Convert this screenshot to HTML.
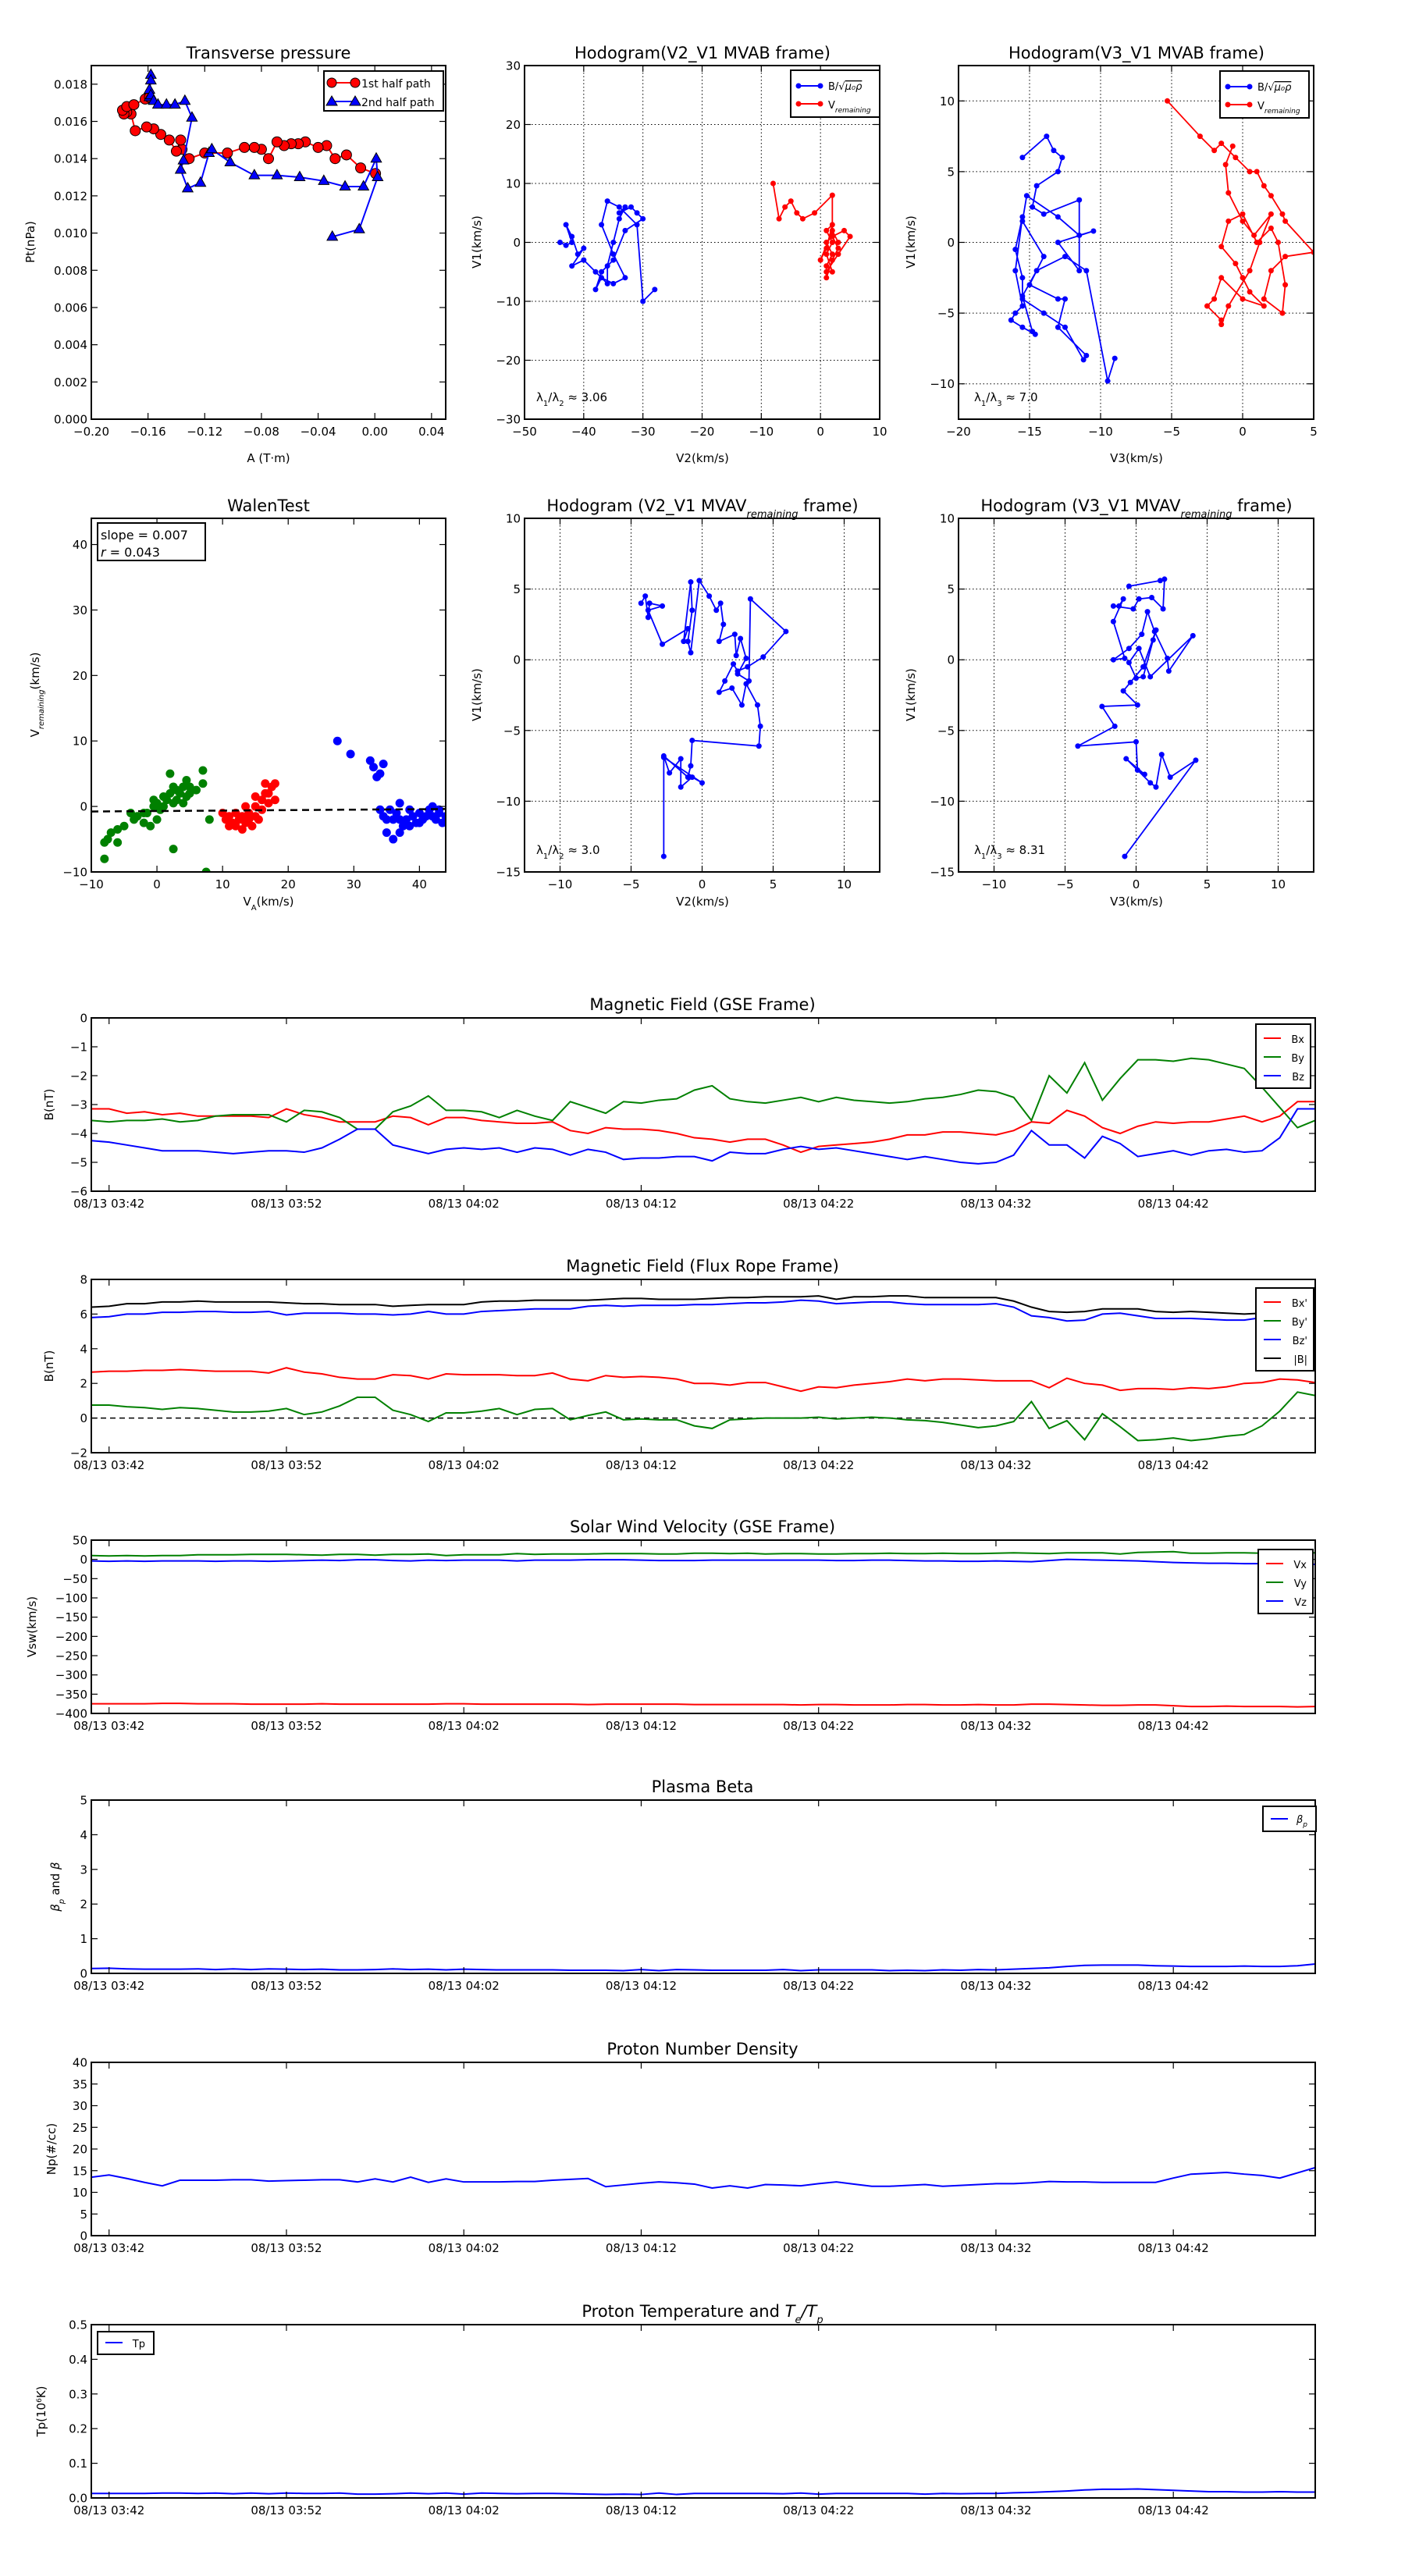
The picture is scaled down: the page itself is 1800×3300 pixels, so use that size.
<!DOCTYPE html>
<html><head><meta charset="utf-8">
<style>
html,body{margin:0;padding:0;background:#fff;}
svg{display:block;font-family:"DejaVu Sans","Liberation Sans",sans-serif;}
</style></head>
<body>
<svg id="fig" width="1800" height="3300" viewBox="0 0 1800 3300" xmlns="http://www.w3.org/2000/svg"><rect width="1800" height="3300" fill="#fff"/></svg>
<script>
// ---------- Transverse pressure data ----------
const ptRedA=[0.0005,-0.010,-0.020,-0.028,-0.034,-0.040,-0.049,-0.054,-0.059,-0.064,-0.069,-0.075,-0.080,-0.085,-0.092,-0.104,-0.120,-0.131,-0.136,-0.137,-0.140,-0.145,-0.151,-0.156,-0.161,-0.169,-0.172,-0.175,-0.177,-0.178,-0.175,-0.170,-0.162,-0.159];
const ptRedP=[0.0132,0.0135,0.0142,0.0140,0.0147,0.0146,0.0149,0.0148,0.0148,0.0147,0.0149,0.0140,0.0145,0.0146,0.0146,0.0143,0.0143,0.0140,0.0145,0.0150,0.0144,0.0150,0.0153,0.0156,0.0157,0.0155,0.0164,0.0165,0.0164,0.0166,0.0168,0.0169,0.0172,0.0173];
const ptBlueA=[-0.159,-0.158,-0.158,-0.159,-0.158,-0.156,-0.153,-0.147,-0.141,-0.134,-0.129,-0.135,-0.137,-0.132,-0.123,-0.117,-0.115,-0.102,-0.085,-0.069,-0.053,-0.036,-0.021,-0.008,0.001,0.002,-0.011,-0.030];
const ptBlueP=[0.0173,0.0185,0.0182,0.0177,0.0174,0.0171,0.0169,0.0169,0.0169,0.0171,0.0162,0.0139,0.0134,0.0124,0.0127,0.0143,0.0145,0.0138,0.0131,0.0131,0.0130,0.0128,0.0125,0.0125,0.0140,0.0130,0.0102,0.0098];
// ---------- Hodogram V2_V1 MVAB ----------
const h1BlueX=[-44,-43,-42,-43,-42,-41,-40,-42,-40,-38,-36,-36,-35,-34,-33,-34,-32,-31,-30,-33,-35,-37,-38,-37,-35,-33,-35,-37,-36,-34,-31,-30,-28];
const h1BlueY=[0,-0.5,0,3,1,-2,-1,-4,-3,-5,-7,-4,0,4,6,5,6,5,4,2,-3,-5,-8,-6,-7,-6,-2,3,7,6,3,-10,-8];
const h1RedX=[-8,-7,-6,-5,-4,-3,-1,2,2,1,2,1,1,2,3,2,4,5,3,1,2,1,2,1,2,1,0,2,3];
const h1RedY=[10,4,6,7,5,4,5,8,1,0,-2,-4,-6,-3,-1,1,2,1,-2,-5,-5,-2,0,2,3,-1,-3,2,0];
// ---------- Hodogram V3_V1 MVAB ----------
const h2BlueX=[-15.5,-13.8,-13.3,-12.7,-13,-14.5,-14.8,-14,-11.5,-11.5,-13,-10.5,-11.5,-13,-15.2,-15.5,-14,-15,-13,-12.5,-13,-11,-11.2,-12.5,-14,-15.5,-15.5,-16,-15.5,-16,-15.5,-16,-16.3,-15.5,-14.6,-14.8,-15.5,-14.5,-12.5,-11,-9.5,-9];
const h2BlueY=[6,7.5,6.5,6,5,4,2.5,2,3,-2,0,0.8,0.5,1.8,3.3,1.5,-1,-3,-4,-4,-6,-8,-8.3,-6,-5,-4,-2.5,-0.5,1.8,-2,-4.5,-5,-5.5,-6,-6.5,-6.3,-3.8,-2,-1,-2,-9.8,-8.2];
const h2RedX=[-5.3,-3,-2,-1.5,-0.5,0.5,1,1.5,2,2.8,3,5,3,2,1.5,2.8,3,2.5,2,1,0,-1,-1.5,-0.5,0,0.5,1.5,0,-1.5,-2,-2.5,-1.5,-1.5,-1,0.5,1.2,2,0.8,0,-1,-1.2,-0.7];
const h2RedY=[10,7.5,6.5,7,6,5,5,4,3.3,2,1.5,-0.7,-1,-2,-4,-5,-3,0,1,0,2,1.5,-0.3,-1.5,-2.5,-3.5,-4.5,-4,-2.5,-4,-4.5,-5.5,-5.8,-4.5,-2,0,2,0.5,1.5,3.5,5.5,6.8];
// ---------- Hodogram V2_V1 MVAV ----------
const h3X=[-4.3,-4,-3.8,-3.7,-2.8,-3.8,-2.8,-1,-1.3,-0.8,-0.7,-1,-0.8,-0.2,0.5,1,1.3,1.5,1.2,2.3,2.4,2.7,3.1,2.5,3.3,3.4,5.9,4.3,3.2,2.5,2.2,1.6,1.2,2.1,2.8,3.1,3.9,4.1,4,-0.7,-0.8,-1,-2.7,-2.3,-1.5,-1.5,-0.7,0,-2.7,-2.7];
const h3Y=[4,4.5,3,4,3.8,3.5,1.1,2.2,1.3,5.5,3.5,1.3,0.5,5.6,4.5,3.5,4,2.5,1.3,1.8,0.3,1.5,0.1,-1,-1.5,4.3,2,0.2,-0.5,-0.8,-0.3,-1.5,-2.3,-2,-3.2,-1.7,-3.2,-4.7,-6.1,-5.7,-7.5,-8.3,-6.8,-8,-7,-9,-8.3,-8.7,-6.9,-13.9];
// ---------- Hodogram V3_V1 MVAV ----------
const h4X=[-0.5,1.7,2,1.9,1.1,0.2,-0.2,-1.6,-1.2,-0.9,-1.6,-0.8,-1.6,-0.5,0.4,0.8,1.3,2.2,2.3,4,1,0.2,-0.5,0,0.5,1.2,1.4,0.5,-0.4,-0.9,0.1,-2.4,-1.5,-4.1,0,0.1,0.6,-0.7,1,1.4,1.8,2.4,4.2,-0.8];
const h4Y=[5.2,5.6,5.7,3.6,4.4,4.3,3.6,3.8,3.8,4.3,2.7,0.1,0,0.8,1.8,3.4,2,0.1,-0.8,1.7,-1.2,0.8,-0.2,-1.3,-1.2,1.4,2.1,-0.5,-1.6,-2.2,-3.2,-3.3,-4.7,-6.1,-5.8,-7.8,-8.1,-7,-8.7,-9,-6.7,-8.3,-7.1,-13.9];
// ---------- Walen test ----------
const walGreenX=[-8,-8,-7.5,-7,-6,-6,-5,-4,-3.5,-3,-2,-2,-1.5,-1,-0.5,-0.5,0,0,0.5,1,1,1.5,2,2,2.5,2.5,3,3,3.5,4,4,4.5,4.5,5,5,6,7,7,8,2.5,7.5];
const walGreenY=[-5.5,-8,-5,-4,-3.5,-5.5,-3,-1,-2,-1.5,-2.5,-1,-1,-3,0,1,-2,0.5,-0.5,1.5,0,1,2,5,3,0.5,2.5,1,2,3,0.5,1.5,4,3,2,2.5,5.5,3.5,-2,-6.5,-10];
const walRedX=[10,10.5,11,11,11.5,12,12,12.5,13,13,13.5,14,14,14.5,15,15,15.5,16,16,16.5,16.5,17,17,17.5,18,18,15,13.5];
const walRedY=[-1,-2,-3,-1.5,-2.5,-1,-3,-2,-3.5,-1.5,-2.5,-2,-1,-3,-1.5,0,-2,1,-0.5,2,3.5,2,0.5,3,1,3.5,1.5,0];
const walBlueX=[27.5,29.5,32.5,33,34,34.5,33.5,34,34.5,35,35,36,36.5,37,37.5,38,38.5,39,39.5,40,40.5,41,41.5,42,42.5,43,43.5,44,36,37,38.5,40,42,43,37,35.5];
const walBlueY=[10,8,7,6,5,6.5,4.5,-0.5,-1.5,-2,-4,-2,-1,-2,-3,-2,-0.5,-1.5,-2.5,-1,-2,-1.5,-0.5,-1.5,-2,-1,-2.5,-1.5,-5,-4,-3,-2.5,0,-0.5,0.5,-0.5];
const walFit=[0.007,-0.7];
// ---------- Time series (1 sample / min from 03:41) ----------
const timeTickMin=[1,11,21,31,41,51,61];
const timeTickLbl=['08/13 03:42','08/13 03:52','08/13 04:02','08/13 04:12','08/13 04:22','08/13 04:32','08/13 04:42'];
const gseBx=[-3.15,-3.15,-3.3,-3.25,-3.35,-3.3,-3.4,-3.4,-3.4,-3.4,-3.45,-3.15,-3.35,-3.45,-3.6,-3.6,-3.6,-3.4,-3.45,-3.7,-3.45,-3.45,-3.55,-3.6,-3.65,-3.65,-3.6,-3.9,-4.0,-3.8,-3.85,-3.85,-3.9,-4.0,-4.15,-4.2,-4.3,-4.2,-4.2,-4.4,-4.65,-4.45,-4.4,-4.35,-4.3,-4.2,-4.05,-4.05,-3.95,-3.95,-4.0,-4.05,-3.9,-3.6,-3.65,-3.2,-3.4,-3.8,-4.0,-3.75,-3.6,-3.65,-3.6,-3.6,-3.5,-3.4,-3.6,-3.4,-2.9,-2.9];
const gseBy=[-3.55,-3.6,-3.55,-3.55,-3.5,-3.6,-3.55,-3.4,-3.35,-3.35,-3.35,-3.6,-3.2,-3.25,-3.45,-3.85,-3.85,-3.25,-3.05,-2.7,-3.2,-3.2,-3.25,-3.45,-3.2,-3.4,-3.55,-2.9,-3.1,-3.3,-2.9,-2.95,-2.85,-2.8,-2.5,-2.35,-2.8,-2.9,-2.95,-2.85,-2.75,-2.9,-2.75,-2.85,-2.9,-2.95,-2.9,-2.8,-2.75,-2.65,-2.5,-2.55,-2.75,-3.55,-2.0,-2.6,-1.55,-2.85,-2.1,-1.45,-1.45,-1.5,-1.4,-1.45,-1.6,-1.75,-2.4,-3.1,-3.8,-3.55];
const gseBz=[-4.25,-4.3,-4.4,-4.5,-4.6,-4.6,-4.6,-4.65,-4.7,-4.65,-4.6,-4.6,-4.65,-4.5,-4.2,-3.85,-3.85,-4.4,-4.55,-4.7,-4.55,-4.5,-4.55,-4.5,-4.65,-4.5,-4.55,-4.75,-4.55,-4.65,-4.9,-4.85,-4.85,-4.8,-4.8,-4.95,-4.65,-4.7,-4.7,-4.55,-4.45,-4.55,-4.5,-4.6,-4.7,-4.8,-4.9,-4.8,-4.9,-5.0,-5.05,-5.0,-4.75,-3.9,-4.4,-4.4,-4.85,-4.1,-4.35,-4.8,-4.7,-4.6,-4.75,-4.6,-4.55,-4.65,-4.6,-4.15,-3.15,-3.15];
const frBx=[2.65,2.7,2.7,2.75,2.75,2.8,2.75,2.7,2.7,2.7,2.6,2.9,2.65,2.55,2.35,2.25,2.25,2.5,2.45,2.25,2.55,2.5,2.5,2.5,2.45,2.45,2.6,2.25,2.15,2.45,2.35,2.4,2.35,2.25,2.0,2.0,1.9,2.05,2.05,1.8,1.55,1.8,1.75,1.9,2.0,2.1,2.25,2.15,2.25,2.25,2.2,2.15,2.15,2.15,1.75,2.3,2.0,1.9,1.6,1.7,1.7,1.65,1.75,1.7,1.8,2.0,2.05,2.25,2.2,2.05];
const frBy=[0.75,0.75,0.65,0.6,0.5,0.6,0.55,0.45,0.35,0.35,0.4,0.55,0.2,0.35,0.7,1.2,1.2,0.45,0.2,-0.2,0.3,0.3,0.4,0.55,0.2,0.5,0.55,-0.1,0.15,0.35,-0.1,-0.05,-0.1,-0.1,-0.45,-0.6,-0.1,-0.05,0.0,0.0,0.0,0.05,-0.05,0.0,0.05,0.0,-0.1,-0.15,-0.25,-0.4,-0.55,-0.45,-0.2,0.95,-0.6,-0.15,-1.25,0.25,-0.5,-1.3,-1.25,-1.15,-1.3,-1.2,-1.05,-0.95,-0.45,0.4,1.5,1.3];
const frBz=[5.8,5.85,6.0,6.0,6.1,6.1,6.15,6.15,6.1,6.1,6.15,5.95,6.05,6.05,6.05,6.0,6.0,5.95,6.0,6.15,6.0,6.0,6.15,6.2,6.25,6.3,6.3,6.3,6.45,6.5,6.45,6.5,6.5,6.5,6.55,6.55,6.6,6.65,6.65,6.7,6.8,6.75,6.6,6.65,6.7,6.7,6.6,6.55,6.55,6.55,6.55,6.6,6.4,5.9,5.8,5.6,5.65,6.0,6.05,5.9,5.75,5.75,5.75,5.7,5.65,5.65,5.8,5.9,5.4,5.0];
const frBt=[6.4,6.45,6.6,6.6,6.7,6.7,6.75,6.7,6.7,6.7,6.7,6.65,6.6,6.6,6.55,6.55,6.55,6.45,6.5,6.55,6.55,6.55,6.7,6.75,6.75,6.8,6.8,6.8,6.8,6.85,6.9,6.9,6.85,6.85,6.85,6.9,6.95,6.95,7.0,7.0,7.0,7.05,6.85,7.0,7.0,7.05,7.05,6.95,6.95,6.95,6.95,6.95,6.75,6.4,6.15,6.1,6.15,6.3,6.3,6.3,6.15,6.1,6.15,6.1,6.05,6.0,6.05,6.35,6.0,5.5];
const vswVx=[-375,-375,-375,-375,-374,-374,-375,-375,-375,-376,-376,-376,-376,-375,-376,-376,-376,-376,-376,-376,-375,-375,-376,-376,-376,-376,-376,-376,-377,-376,-376,-376,-376,-376,-377,-377,-377,-377,-377,-377,-378,-377,-377,-378,-378,-378,-377,-377,-378,-378,-377,-378,-378,-376,-376,-377,-378,-379,-379,-378,-378,-380,-382,-382,-381,-382,-382,-382,-383,-382];
const vswVy=[10,9,10,9,10,10,12,12,12,13,13,13,12,11,13,13,11,13,13,14,10,12,12,12,15,13,14,14,14,15,15,15,14,14,16,16,15,16,14,15,15,14,14,15,15,16,15,15,16,15,15,16,17,16,15,17,17,17,14,18,19,20,16,16,17,17,16,14,16,17];
const vswVz=[-4,-5,-4,-5,-4,-4,-4,-5,-4,-4,-5,-4,-3,-2,-3,-1,-1,-3,-4,-2,-3,-2,-2,-2,-4,-2,-2,-2,-1,-1,-1,-2,-3,-3,-3,-2,-2,-2,-2,-2,-2,-2,-3,-3,-2,-2,-3,-4,-4,-5,-5,-4,-5,-6,-3,0,-1,-2,-3,-4,-6,-8,-9,-10,-10,-11,-11,-11,-10,-13];
const betaP=[0.14,0.15,0.13,0.12,0.12,0.12,0.13,0.11,0.13,0.11,0.13,0.12,0.11,0.12,0.10,0.10,0.11,0.13,0.11,0.12,0.10,0.12,0.11,0.10,0.10,0.10,0.10,0.09,0.09,0.09,0.08,0.11,0.08,0.11,0.10,0.09,0.09,0.09,0.09,0.11,0.08,0.10,0.10,0.10,0.10,0.08,0.09,0.08,0.10,0.09,0.11,0.10,0.12,0.14,0.16,0.20,0.23,0.24,0.24,0.24,0.22,0.21,0.20,0.20,0.20,0.21,0.20,0.20,0.22,0.27];
const densNp=[13.5,14,13.2,12.3,11.5,12.8,12.8,12.8,12.9,12.9,12.6,12.7,12.8,12.9,12.9,12.4,13.1,12.4,13.5,12.3,13.1,12.4,12.4,12.4,12.5,12.5,12.8,13,13.2,11.3,11.7,12.1,12.4,12.2,11.9,11,11.5,11,11.8,11.7,11.5,12,12.4,11.9,11.4,11.4,11.6,11.8,11.4,11.6,11.8,12,12,12.2,12.5,12.4,12.4,12.3,12.3,12.3,12.3,13.3,14.2,14.4,14.6,14.2,13.9,13.3,14.5,15.7];
const tempTp=[0.013,0.013,0.013,0.013,0.014,0.014,0.013,0.014,0.012,0.014,0.012,0.014,0.013,0.013,0.014,0.011,0.011,0.012,0.014,0.012,0.014,0.011,0.014,0.013,0.012,0.013,0.013,0.012,0.011,0.010,0.011,0.010,0.014,0.010,0.013,0.013,0.013,0.013,0.013,0.012,0.014,0.011,0.013,0.013,0.013,0.013,0.013,0.011,0.013,0.012,0.013,0.013,0.015,0.016,0.018,0.020,0.023,0.025,0.025,0.026,0.024,0.022,0.020,0.018,0.018,0.017,0.017,0.018,0.017,0.017];

const NS='http://www.w3.org/2000/svg';
const svg=document.getElementById('fig');
let clipId=0;
function mk(tag,parent){const e=document.createElementNS(NS,tag);(parent||svg).appendChild(e);return e;}
function fmt(v,d){const s=Math.abs(v).toFixed(d);return (v<0?'\u2212':'')+s;}
function txt(parent,x,y,s,size,anchor){const t=mk('text',parent);t.setAttribute('x',x);t.setAttribute('y',y);t.setAttribute('font-size',size);t.setAttribute('text-anchor',anchor||'middle');t.textContent=s;return t;}

function makeAxes(name,x0,y0,w,h,xr,yr,xt,xlbl,yt,ylbl,grid){
  const g=mk('g');
  
  
  const sx=v=>x0+(v-xr[0])/(xr[1]-xr[0])*w;
  const sy=v=>y0+h-(v-yr[0])/(yr[1]-yr[0])*h;
  const cid='c'+(clipId++);
  const cp=mk('clipPath',g);cp.setAttribute('id',cid);
  const cr=mk('rect',cp);cr.setAttribute('x',x0);cr.setAttribute('y',y0);cr.setAttribute('width',w);cr.setAttribute('height',h);
  if(grid){
    xt.forEach(v=>{const l=mk('line',g);l.setAttribute('x1',sx(v));l.setAttribute('x2',sx(v));l.setAttribute('y1',y0);l.setAttribute('y2',y0+h);l.setAttribute('stroke','#000');l.setAttribute('stroke-dasharray','1.5,3');l.setAttribute('stroke-width','1');
      
      });
    yt.forEach(v=>{const l=mk('line',g);l.setAttribute('y1',sy(v));l.setAttribute('y2',sy(v));l.setAttribute('x1',x0);l.setAttribute('x2',x0+w);l.setAttribute('stroke','#000');l.setAttribute('stroke-dasharray','1.5,3');l.setAttribute('stroke-width','1');
      
      });
  }
  const dg=mk('g',g);dg.setAttribute('clip-path','url(#'+cid+')');
  
  
  const fg=mk('g',g);
  xt.forEach((v,i)=>{const X=sx(v);
    [[y0+h,y0+h-8],[y0,y0+8]].forEach(p=>{const l=mk('line',fg);l.setAttribute('x1',X);l.setAttribute('x2',X);l.setAttribute('y1',p[0]);l.setAttribute('y2',p[1]);l.setAttribute('stroke','#000');l.setAttribute('stroke-width','1.2');});
    const t=txt(fg,X,y0+h+21,xlbl[i],15);
    
    });
  yt.forEach((v,i)=>{const Y=sy(v);
    [[x0,x0+8],[x0+w,x0+w-8]].forEach(p=>{const l=mk('line',fg);l.setAttribute('y1',Y);l.setAttribute('y2',Y);l.setAttribute('x1',p[0]);l.setAttribute('x2',p[1]);l.setAttribute('stroke','#000');l.setAttribute('stroke-width','1.2');});
    const t=txt(fg,x0-5,Y+5.5,ylbl[i],15,'end');
    
    });
  const fr=mk('rect',fg);fr.setAttribute('x',x0);fr.setAttribute('y',y0);fr.setAttribute('width',w);fr.setAttribute('height',h);fr.setAttribute('fill','none');fr.setAttribute('stroke','#000');fr.setAttribute('stroke-width','2');
  
  
  return {g,dg,fg,sx,sy,x0,y0,w,h};
}
function line(ax,xs,ys,color,name,width,dash){
  const p=mk('polyline',ax.dg);
  p.setAttribute('points',ys.map((v,i)=>ax.sx(xs?xs[i]:i)+','+ax.sy(v)).join(' '));
  p.setAttribute('fill','none');p.setAttribute('stroke',color);p.setAttribute('stroke-width',width||2);
  if(dash)p.setAttribute('stroke-dasharray',dash);
  
  
  return p;
}
function dots(ax,xs,ys,color,name,r,stroke){
  xs.forEach((x,i)=>{const c=mk('circle',ax.dg);c.setAttribute('cx',ax.sx(x));c.setAttribute('cy',ax.sy(ys[i]));c.setAttribute('r',r);c.setAttribute('fill',color);
    if(stroke){c.setAttribute('stroke','#000');c.setAttribute('stroke-width','1');}
    
    });
}
function tris(ax,xs,ys,color,name,s){
  xs.forEach((x,i)=>{const X=ax.sx(x),Y=ax.sy(ys[i]);const p=mk('polygon',ax.dg);
    p.setAttribute('points',X+','+(Y-s)+' '+(X-s*0.9)+','+(Y+s*0.6)+' '+(X+s*0.9)+','+(Y+s*0.6));p.setAttribute('fill',color);p.setAttribute('stroke','#000');p.setAttribute('stroke-width','1');
    
    });
}
function title(x,y,s,name){const t=txt(svg,x,y,s,21);
  
  return t;}
function ylab(x,y,s,name,size){const t=txt(svg,0,0,s,size||15);t.setAttribute('transform','translate('+x+','+y+') rotate(-90)');
  
  return t;}
function xlab(x,y,s,name){const t=txt(svg,x,y,s,15);
  
  return t;}
function sub(t,s,italic,size){const sp=mk('tspan',t);sp.setAttribute('baseline-shift','sub');sp.setAttribute('font-size',size||10);if(italic)sp.setAttribute('font-style','italic');sp.textContent=s;return sp;}
function plain(t,s){const sp=mk('tspan',t);sp.textContent=s;return sp;}
function legendBox(x,y,w,h,name){const r=mk('rect');r.setAttribute('x',x);r.setAttribute('y',y);r.setAttribute('width',w);r.setAttribute('height',h);r.setAttribute('fill','#fff');r.setAttribute('stroke','#000');r.setAttribute('stroke-width','2');
  
  }
function legLine(x,y,len,color,name){const l=mk('line');l.setAttribute('x1',x);l.setAttribute('x2',x+len);l.setAttribute('y1',y);l.setAttribute('y2',y);l.setAttribute('stroke',color);l.setAttribute('stroke-width','2');
  
  }

// ===== Row 1 =====
const R1=[84,453], R2=[664,453];
const C=[[117,454],[672,455],[1228,455]];
// Transverse pressure
const ptYt=[0,0.002,0.004,0.006,0.008,0.010,0.012,0.014,0.016,0.018];
const ptXt=[-0.20,-0.16,-0.12,-0.08,-0.04,0.00,0.04];
const axPt=makeAxes('transverse-pressure-chart',C[0][0],R1[0],C[0][1],R1[1],[-0.2,0.05],[0,0.019],ptXt,ptXt.map(v=>fmt(v,2)),ptYt,ptYt.map(v=>v.toFixed(3)),false);
line(axPt,ptRedA,ptRedP,'#ff0000','first-half-path-line',2);
dots(axPt,ptRedA,ptRedP,'#ff0000','first-half-point',6.5,true);
line(axPt,ptBlueA,ptBlueP,'#0000ff','second-half-path-line',2);
tris(axPt,ptBlueA,ptBlueP,'#0000ff','second-half-point',7.5);
title(344,75,'Transverse pressure','transverse-pressure-title');
ylab(44,310,'Pt(nPa)','pt-y-axis-title');
xlab(344,592,'A (T·m)','a-x-axis-title');
legendBox(415,91,153,51,'pt-legend');
legLine(425,106,30,'#ff0000','legend-line-1st');
{const c=mk('circle');c.setAttribute('cx',425);c.setAttribute('cy',106);c.setAttribute('r',6);c.setAttribute('fill','#f00');c.setAttribute('stroke','#000');
const c2=mk('circle');c2.setAttribute('cx',455);c2.setAttribute('cy',106);c2.setAttribute('r',6);c2.setAttribute('fill','#f00');c2.setAttribute('stroke','#000');}
const tl1=txt(svg,463,112,'1st half path',14,'start');
legLine(425,130,30,'#0000ff','legend-line-2nd');
{[425,455].forEach(X=>{const p=mk('polygon');p.setAttribute('points',X+',123 '+(X-7)+',135 '+(X+7)+',135');p.setAttribute('fill','#00f');p.setAttribute('stroke','#000');});}
const tl2=txt(svg,463,136,'2nd half path',14,'start');

// Hodogram legend helper
function hodoLegend(x,y,name){
  legendBox(x,y,114,60,name);
  legLine(x+10,y+20,28,'#0000ff','legend-line-b');
  [x+10,x+38].forEach(X=>{const c=mk('circle');c.setAttribute('cx',X);c.setAttribute('cy',y+20);c.setAttribute('r',3.5);c.setAttribute('fill','#00f');});
  const t1=txt(svg,x+48,y+25,'B/√',13,'start');plain(t1,'');const s=mk('tspan',t1);s.setAttribute('font-style','italic');s.setAttribute('text-decoration','overline');s.textContent='μ₀ρ';
  
  
  legLine(x+10,y+43,28,'#ff0000','legend-line-v');
  [x+10,x+38].forEach(X=>{const c=mk('circle');c.setAttribute('cx',X);c.setAttribute('cy',y+43);c.setAttribute('r',3.5);c.setAttribute('fill','#f00');});
  const t2=txt(svg,x+48,y+49,'V',13,'start');sub(t2,'remaining',true,9);
  
  
}
function lamText(x,y,a,b,val,name){const t=txt(svg,x,y,'λ',15,'start');sub(t,a,false,10);plain(t,'/λ');sub(t,b,false,10);plain(t,' ≈ '+val);
  
  }

// Hodogram V2_V1 MVAB
const h1Xt=[-50,-40,-30,-20,-10,0,10], h1Yt=[-30,-20,-10,0,10,20,30];
const axH1=makeAxes('hodogram-v2-v1-mvab',C[1][0],R1[0],C[1][1],R1[1],[-50,10],[-30,30],h1Xt,h1Xt.map(v=>fmt(v,0)),h1Yt,h1Yt.map(v=>fmt(v,0)),true);
line(axH1,h1BlueX,h1BlueY,'#0000ff','b-hodogram-line',1.8);dots(axH1,h1BlueX,h1BlueY,'#0000ff','b-hodogram-point',3.5);
line(axH1,h1RedX,h1RedY,'#ff0000','v-hodogram-line',1.8);dots(axH1,h1RedX,h1RedY,'#ff0000','v-hodogram-point',3.5);
title(900,75,'Hodogram(V2_V1 MVAB frame)','hodogram-v2-v1-mvab-title');
ylab(616,310,'V1(km/s)','v1-y-axis-title');
xlab(900,592,'V2(km/s)','v2-x-axis-title');
hodoLegend(1013,90,'hodogram-legend');
lamText(687,514,'1','2','3.06','eigen-ratio-label');

// Hodogram V3_V1 MVAB
const h2Xt=[-20,-15,-10,-5,0,5], h2Yt=[-10,-5,0,5,10];
const axH2=makeAxes('hodogram-v3-v1-mvab',C[2][0],R1[0],C[2][1],R1[1],[-20,5],[-12.5,12.5],h2Xt,h2Xt.map(v=>fmt(v,0)),h2Yt,h2Yt.map(v=>fmt(v,0)),true);
line(axH2,h2BlueX,h2BlueY,'#0000ff','b-hodogram-line',1.8);dots(axH2,h2BlueX,h2BlueY,'#0000ff','b-hodogram-point',3.5);
line(axH2,h2RedX,h2RedY,'#ff0000','v-hodogram-line',1.8);dots(axH2,h2RedX,h2RedY,'#ff0000','v-hodogram-point',3.5);
title(1456,75,'Hodogram(V3_V1 MVAB frame)','hodogram-v3-v1-mvab-title');
ylab(1172,310,'V1(km/s)','v1-y-axis-title');
xlab(1456,592,'V3(km/s)','v3-x-axis-title');
hodoLegend(1563,91,'hodogram-legend');
lamText(1248,514,'1','3','7.0','eigen-ratio-label');

// ===== Row 2 =====
// Walen test
const wT=[-10,0,10,20,30,40];
const axW=makeAxes('walen-test-chart',C[0][0],R2[0],C[0][1],R2[1],[-10,44],[-10,44],wT,wT.map(v=>fmt(v,0)),wT,wT.map(v=>fmt(v,0)),false);
dots(axW,walGreenX,walGreenY,'#008000','walen-green-point',5.5);
dots(axW,walRedX,walRedY,'#ff0000','walen-red-point',5.5);
dots(axW,walBlueX,walBlueY,'#0000ff','walen-blue-point',5.5);
{const fx=[-10,44];line(axW,fx,fx.map(v=>walFit[1]+walFit[0]*v),'#000','walen-fit-line',2.5,'9,6');}
title(344,655,'WalenTest','walen-test-title');
{const t=ylab(50,890,'V','walen-y-axis-title');sub(t,'remaining',true,10);plain(t,'(km/s)');}
{const t=xlab(344,1160,'V','walen-x-axis-title');sub(t,'A',false,10);plain(t,'(km/s)');}
legendBox(125,670,138,48,'walen-stats-box');
{const t=txt(svg,129,691,'slope = 0.007',16,'start');
 const t2=txt(svg,129,713,'',16,'start');const s=mk('tspan',t2);s.setAttribute('font-style','italic');s.textContent='r';plain(t2,' = 0.043');
 }

// Hodogram V2_V1 MVAV
const h3Xt=[-10,-5,0,5,10], h3Yt=[-15,-10,-5,0,5,10];
const axH3=makeAxes('hodogram-v2-v1-mvav',C[1][0],R2[0],C[1][1],R2[1],[-12.5,12.5],[-15,10],h3Xt,h3Xt.map(v=>fmt(v,0)),h3Yt,h3Yt.map(v=>fmt(v,0)),true);
line(axH3,h3X,h3Y,'#0000ff','hodogram-line',1.8);dots(axH3,h3X,h3Y,'#0000ff','hodogram-point',3.5);
{const t=title(900,655,'Hodogram (V2_V1 MVAV','hodogram-v2-v1-mvav-title');sub(t,'remaining',true,13);plain(t,' frame)');}
ylab(616,890,'V1(km/s)','v1-y-axis-title');
xlab(900,1160,'V2(km/s)','v2-x-axis-title');
lamText(687,1094,'1','2','3.0','eigen-ratio-label');

// Hodogram V3_V1 MVAV
const axH4=makeAxes('hodogram-v3-v1-mvav',C[2][0],R2[0],C[2][1],R2[1],[-12.5,12.5],[-15,10],h3Xt,h3Xt.map(v=>fmt(v,0)),h3Yt,h3Yt.map(v=>fmt(v,0)),true);
line(axH4,h4X,h4Y,'#0000ff','hodogram-line',1.8);dots(axH4,h4X,h4Y,'#0000ff','hodogram-point',3.5);
{const t=title(1456,655,'Hodogram (V3_V1 MVAV','hodogram-v3-v1-mvav-title');sub(t,'remaining',true,13);plain(t,' frame)');}
ylab(1172,890,'V1(km/s)','v1-y-axis-title');
xlab(1456,1160,'V3(km/s)','v3-x-axis-title');
lamText(1248,1094,'1','3','8.31','eigen-ratio-label');

// ===== Time series panels =====
const TX0=117,TW=1568,TH=222,TR=[0,69];
function tsAxes(name,top,yr,yt,ylbl){return makeAxes(name,TX0,top,TW,TH,TR,yr,timeTickMin,timeTickLbl,yt,ylbl,false);}
function tsLegend(x,y,w,items,name){
  legendBox(x,y,w,items.length*24+10,name);
  items.forEach((it,i)=>{legLine(x+10,y+18+i*24,22,it[0],'legend-line');
    const t=txt(svg,x+w-8,y+24+i*24,it[1],13,'end');
    
    });
}
const T=[1304,1639,1973,2306,2642,2978];
// GSE
{const yt=[-6,-5,-4,-3,-2,-1,0];
 const ax=tsAxes('magnetic-field-gse-chart',T[0],[-6,0],yt,yt.map(v=>fmt(v,0)));
 line(ax,null,gseBx,'#ff0000','bx-line');line(ax,null,gseBy,'#008000','by-line');line(ax,null,gseBz,'#0000ff','bz-line');
 title(900,T[0]-10,'Magnetic Field (GSE Frame)','magnetic-field-gse-title');
 ylab(68,T[0]+111,'B(nT)','b-y-axis-title');
 tsLegend(1609,1312,70,[['#ff0000','Bx'],['#008000','By'],['#0000ff','Bz']],'gse-legend');}
// Flux rope
{const yt=[-2,0,2,4,6,8];
 const ax=tsAxes('magnetic-field-flux-rope-chart',T[1],[-2,8],yt,yt.map(v=>fmt(v,0)));
 line(ax,[0,69],[0,0],'#000','zero-line',1.5,'7,5');
 line(ax,null,frBx,'#ff0000','bx-prime-line');line(ax,null,frBy,'#008000','by-prime-line');line(ax,null,frBz,'#0000ff','bz-prime-line');line(ax,null,frBt,'#000000','b-total-line');
 title(900,T[1]-10,'Magnetic Field (Flux Rope Frame)','magnetic-field-flux-rope-title');
 ylab(68,T[1]+111,'B(nT)','b-y-axis-title');
 tsLegend(1609,1650,74,[['#ff0000',"Bx'"],['#008000',"By'"],['#0000ff',"Bz'"],['#000000','|B|']],'flux-rope-legend');}
// Velocity
{const yt=[-400,-350,-300,-250,-200,-150,-100,-50,0,50];
 const ax=tsAxes('solar-wind-velocity-chart',T[2],[-400,50],yt,yt.map(v=>fmt(v,0)));
 line(ax,null,vswVx,'#ff0000','vx-line');line(ax,null,vswVy,'#008000','vy-line');line(ax,null,vswVz,'#0000ff','vz-line');
 title(900,T[2]-10,'Solar Wind Velocity (GSE Frame)','solar-wind-velocity-title');
 ylab(46,T[2]+111,'Vsw(km/s)','vsw-y-axis-title');
 tsLegend(1612,1985,70,[['#ff0000','Vx'],['#008000','Vy'],['#0000ff','Vz']],'velocity-legend');}
// Beta
{const yt=[0,1,2,3,4,5];
 const ax=tsAxes('plasma-beta-chart',T[3],[0,5],yt,yt.map(v=>fmt(v,0)));
 line(ax,null,betaP,'#0000ff','beta-p-line');
 title(900,T[3]-10,'Plasma Beta','plasma-beta-title');
 {const t=ylab(76,T[3]+111,'β','beta-y-axis-title');t.setAttribute('font-style','italic');sub(t,'p',true,10);const s=plain(t,' and ');s.setAttribute('font-style','normal');plain(t,'β');}
 legendBox(1618,2314,68,32,'beta-legend');legLine(1628,2330,22,'#0000ff','legend-line');
 const t=txt(svg,1668,2335,'β',13,'middle');t.setAttribute('font-style','italic');sub(t,'p',true,9);
 
 }
// Density
{const yt=[0,5,10,15,20,25,30,35,40];
 const ax=tsAxes('proton-density-chart',T[4],[0,40],yt,yt.map(v=>fmt(v,0)));
 line(ax,null,densNp,'#0000ff','np-line');
 title(900,T[4]-10,'Proton Number Density','proton-density-title');
 ylab(71,T[4]+111,'Np(#/cc)','np-y-axis-title');}
// Temperature
{const yt=[0,0.1,0.2,0.3,0.4,0.5];
 const ax=tsAxes('proton-temperature-chart',T[5],[0,0.5],yt,yt.map(v=>v.toFixed(1)));
 line(ax,null,tempTp,'#0000ff','tp-line');
 const t=title(900,T[5]-10,'Proton Temperature and ','proton-temperature-title');const s1=plain(t,'T');s1.setAttribute('font-style','italic');sub(t,'e',true,13);const s2=plain(t,'/T');s2.setAttribute('font-style','italic');sub(t,'p',true,13);
 {const y=ylab(58,T[5]+111,'Tp(10','tp-y-axis-title');const s=mk('tspan',y);s.setAttribute('baseline-shift','super');s.setAttribute('font-size',9);s.textContent='6';plain(y,'K)');}
 legendBox(125,2987,72,29,'tp-legend');legLine(135,3001,22,'#0000ff','legend-line');
 const tl=txt(svg,186,3007,'Tp',13,'end');
 
 }
</script>
</body></html>
